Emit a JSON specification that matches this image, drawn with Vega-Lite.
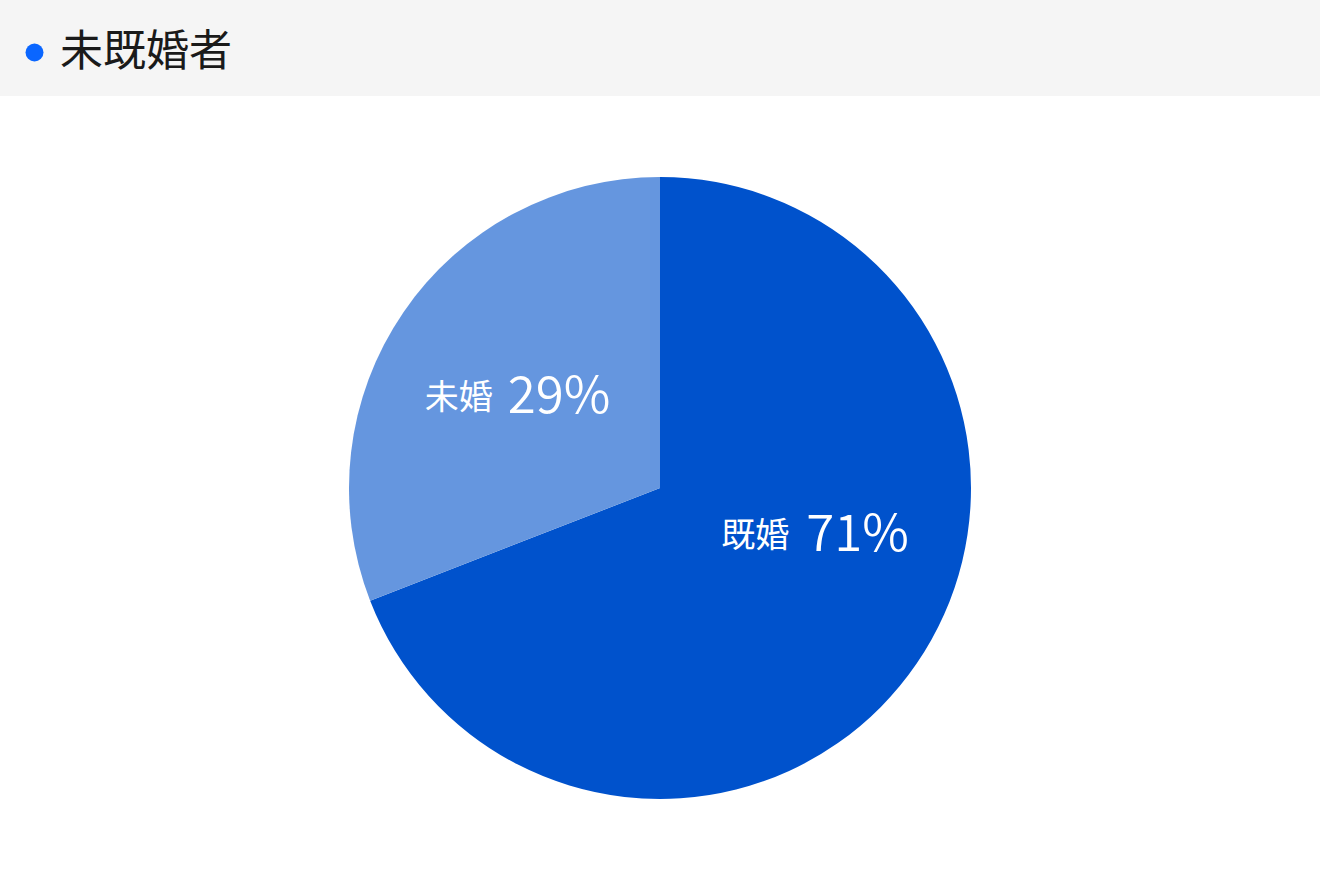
{
  "$schema": "https://vega.github.io/schema/vega-lite/v6.json",
  "background": "white",
  "padding": 0,
  "spacing": 0,
  "config": {"view": {"stroke": null}, "font": "Noto Sans CJK JP"},
  "datasets": {
    "header": [{"group": "未既婚者"}],
    "pie": [
      {"status": "既婚", "value": 69.1, "pct": "71%", "order": 1},
      {"status": "未婚", "value": 30.9, "pct": "29%", "order": 2}
    ]
  },
  "resolve": {"scale": {"color": "independent", "fill": "independent"}, "legend": {"fill": "independent"}},
  "vconcat": [
    {
      "width": 1320,
      "height": 96,
      "view": {"fill": "#f5f5f5", "stroke": null},
      "data": {"name": "header"},
      "mark": {"type": "point", "filled": true, "opacity": 0},
      "encoding": {
        "fill": {
          "field": "group",
          "type": "nominal",
          "scale": {"range": ["#0a66ff"]},
          "legend": {
            "title": null,
            "orient": "none",
            "legendX": 13,
            "legendY": 31,
            "padding": 0,
            "symbolType": "circle",
            "symbolSize": 324,
            "symbolOpacity": 1,
            "symbolStrokeWidth": 0,
            "labelFont": "Noto Sans CJK JP",
            "labelFontSize": 43,
            "labelColor": "#1a1a1a",
            "labelOffset": 4,
            "labelLimit": 400
          }
        }
      }
    },
    {
      "width": 1320,
      "height": 784,
      "data": {"name": "pie"},
      "encoding": {
        "theta": {"field": "value", "type": "quantitative", "stack": true},
        "order": {"field": "order", "type": "quantitative"}
      },
      "layer": [
        {
          "mark": {"type": "arc", "outerRadius": 311},
          "encoding": {
            "color": {
              "field": "status",
              "type": "nominal",
              "scale": {"domain": ["既婚", "未婚"], "range": ["#0052cc", "#6596df"]},
              "legend": null
            }
          }
        },
        {
          "mark": {"type": "text", "radius": 171, "align": "right", "baseline": "middle", "dx": -12, "dy": -48, "fontSize": 34, "color": "white"},
          "encoding": {
            "text": {"field": "status"},
            "opacity": {"condition": {"test": "datum.status === '既婚'", "value": 1}, "value": 0}
          }
        },
        {
          "mark": {"type": "text", "radius": 171, "align": "left", "baseline": "middle", "dx": 5, "dy": -49, "fontSize": 51, "fontWeight": 350, "color": "white"},
          "encoding": {
            "text": {"field": "pct"},
            "opacity": {"condition": {"test": "datum.status === '既婚'", "value": 1}, "value": 0}
          }
        },
        {
          "mark": {"type": "text", "radius": 171, "align": "right", "baseline": "middle", "dx": -26, "dy": 8, "fontSize": 34, "color": "white"},
          "encoding": {
            "text": {"field": "status"},
            "opacity": {"condition": {"test": "datum.status === '未婚'", "value": 1}, "value": 0}
          }
        },
        {
          "mark": {"type": "text", "radius": 171, "align": "left", "baseline": "middle", "dx": -11, "dy": 7, "fontSize": 51, "fontWeight": 350, "color": "white"},
          "encoding": {
            "text": {"field": "pct"},
            "opacity": {"condition": {"test": "datum.status === '未婚'", "value": 1}, "value": 0}
          }
        }
      ]
    }
  ]
}
